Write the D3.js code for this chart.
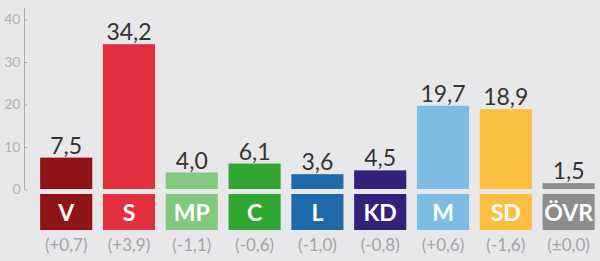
<!DOCTYPE html>
<html>
<head>
<meta charset="utf-8">
<script src="https://cdn.jsdelivr.net/npm/d3@7"></script>
<style>
  body { margin: 0; background: #e8e8ea; }
  svg { display: block; }
</style>
</head>
<body>
<div id="chart"></div>
<script>
// Set dimensions
const width = 600;
const height = 261;

// data
const parties = ["V", "S", "MP", "C", "L", "KD", "M", "SD", "ÖVR"];
const values = [7.5, 34.2, 4.0, 6.1, 3.6, 4.5, 19.7, 18.9, 1.5];
const changes = ["(+0,7)", "(+3,9)", "(-1,1)", "(-0,6)", "(-1,0)", "(-0,8)", "(+0,6)", "(-1,6)", "(±0,0)"];
const colors = ["#8f1317", "#e33041", "#83c87f", "#31a633", "#1e69aa", "#34227a", "#7ebde3", "#fdbf40", "#8d8d8d"];
const yTicks = [0, 10, 20, 30, 40];

const fmt = v => v.toFixed(1).replace(".", ",");

const svg = d3.select("#chart")
  .append("svg")
  .attr("width", width)
  .attr("height", height);

// scales
const xScale = d3.scaleBand()
  .domain(parties)
  .range([34.8, 600])
  .paddingInner(0.17)
  .paddingOuter(0.085);

const yScale = d3.scaleLinear()
  .domain([0, 40])
  .range([189.5, 19.5]);

// y axis
const yAxis = svg.append("g")
  .attr("transform", "translate(24.5,0)")
  .call(d3.axisRight(yScale).tickValues(yTicks).tickSize(3).tickFormat(d => d));
yAxis.select(".domain").remove();
yAxis.selectAll(".tick line").attr("stroke", "#aaa");
yAxis.selectAll(".tick text")
  .attr("x", -4)
  .attr("text-anchor", "end")
  .attr("fill", "#b0b0b2")
  .attr("font-family", "Lato, 'Noto Sans', sans-serif")
  .attr("font-size", "14px");
svg.append("line")
  .attr("x1", 24.5).attr("x2", 24.5)
  .attr("y1", 8).attr("y2", yScale(0))
  .attr("stroke", "#aaa");

const g = svg.selectAll("g.party")
  .data(parties)
  .enter()
  .append("g")
  .attr("class", "party");

// bars
g.append("rect")
  .attr("x", d => xScale(d))
  .attr("y", (d, i) => yScale(values[i]))
  .attr("width", xScale.bandwidth())
  .attr("height", (d, i) => yScale(0) - 0.5 - yScale(values[i]))
  .attr("fill", (d, i) => colors[i]);

// value labels
g.append("text")
  .attr("x", d => xScale(d) + xScale.bandwidth() / 2)
  .attr("y", (d, i) => yScale(values[i]) - 4)
  .attr("text-anchor", "middle")
  .attr("fill", "#333")
  .attr("font-family", "Lato, 'Noto Sans', sans-serif")
  .attr("font-size", "23px")
  .text((d, i) => fmt(values[i]));

// party boxes
g.append("rect")
  .attr("x", d => xScale(d))
  .attr("y", 194)
  .attr("width", xScale.bandwidth())
  .attr("height", 36)
  .attr("fill", (d, i) => colors[i]);

g.append("text")
  .attr("x", d => xScale(d) + xScale.bandwidth() / 2)
  .attr("y", 221)
  .attr("text-anchor", "middle")
  .attr("fill", "#fff")
  .attr("font-family", "Lato, 'Noto Sans', sans-serif")
  .attr("font-weight", "bold")
  .attr("font-size", "23px")
  .text(d => d);

// change labels
g.append("text")
  .attr("x", d => xScale(d) + xScale.bandwidth() / 2)
  .attr("y", 251)
  .attr("text-anchor", "middle")
  .attr("fill", "#a3a3a5")
  .attr("font-family", "Lato, 'Noto Sans', sans-serif")
  .attr("font-size", "17px")
  .text((d, i) => changes[i]);
</script>
</body>
</html>
